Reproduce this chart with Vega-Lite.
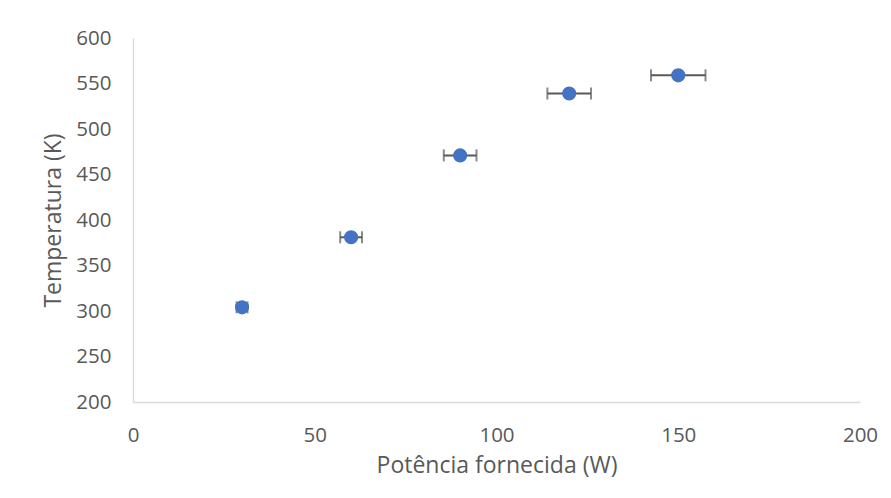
{
  "$schema": "https://vega.github.io/schema/vega-lite/v6.json",
  "width": 727,
  "height": 364,
  "autosize": {"type": "none"},
  "padding": {"left": 133, "top": 38, "right": 31, "bottom": 96},
  "background": "white",
  "config": {
    "view": {"stroke": null},
    "font": "Open Sans",
    "axis": {
      "grid": false,
      "ticks": false,
      "domainColor": "#d9d9d9",
      "domainWidth": 1.3,
      "labelColor": "#595959",
      "titleColor": "#595959",
      "labelFont": "Open Sans",
      "titleFont": "Open Sans",
      "labelFontSize": 20.5,
      "titleFontSize": 23,
      "titleFontWeight": "normal"
    }
  },
  "data": {
    "values": [
      {"p": 30, "t": 304, "lo": 28.5, "hi": 31.5},
      {"p": 60, "t": 381, "lo": 57, "hi": 63},
      {"p": 90, "t": 471, "lo": 85.5, "hi": 94.5},
      {"p": 120, "t": 539, "lo": 114, "hi": 126},
      {"p": 150, "t": 559, "lo": 142.5, "hi": 157.5}
    ]
  },
  "layer": [
    {
      "mark": {"type": "rule", "color": "#595959", "strokeWidth": 2},
      "encoding": {
        "x": {"field": "lo", "type": "quantitative"},
        "x2": {"field": "hi"},
        "y": {"field": "t", "type": "quantitative"}
      }
    },
    {
      "mark": {"type": "tick", "orient": "vertical", "color": "#595959", "thickness": 2, "size": 12},
      "encoding": {
        "x": {"field": "lo", "type": "quantitative"},
        "y": {"field": "t", "type": "quantitative"}
      }
    },
    {
      "mark": {"type": "tick", "orient": "vertical", "color": "#595959", "thickness": 2, "size": 12},
      "encoding": {
        "x": {"field": "hi", "type": "quantitative"},
        "y": {"field": "t", "type": "quantitative"}
      }
    },
    {
      "mark": {"type": "circle", "color": "#4472C4", "opacity": 1, "size": 200},
      "encoding": {
        "x": {
          "field": "p",
          "type": "quantitative",
          "scale": {"domain": [0, 200], "nice": false},
          "axis": {
            "title": "Potência fornecida (W)",
            "values": [0, 50, 100, 150, 200],
            "labelPadding": 23,
            "titlePadding": 9,
            "labelFlush": false
          }
        },
        "y": {
          "field": "t",
          "type": "quantitative",
          "scale": {"domain": [200, 600], "nice": false, "zero": false},
          "axis": {
            "title": "Temperatura (K)",
            "values": [200, 250, 300, 350, 400, 450, 500, 550, 600],
            "labelPadding": 22,
            "titlePadding": 10,
            "labelFlush": false
          }
        }
      }
    }
  ]
}
